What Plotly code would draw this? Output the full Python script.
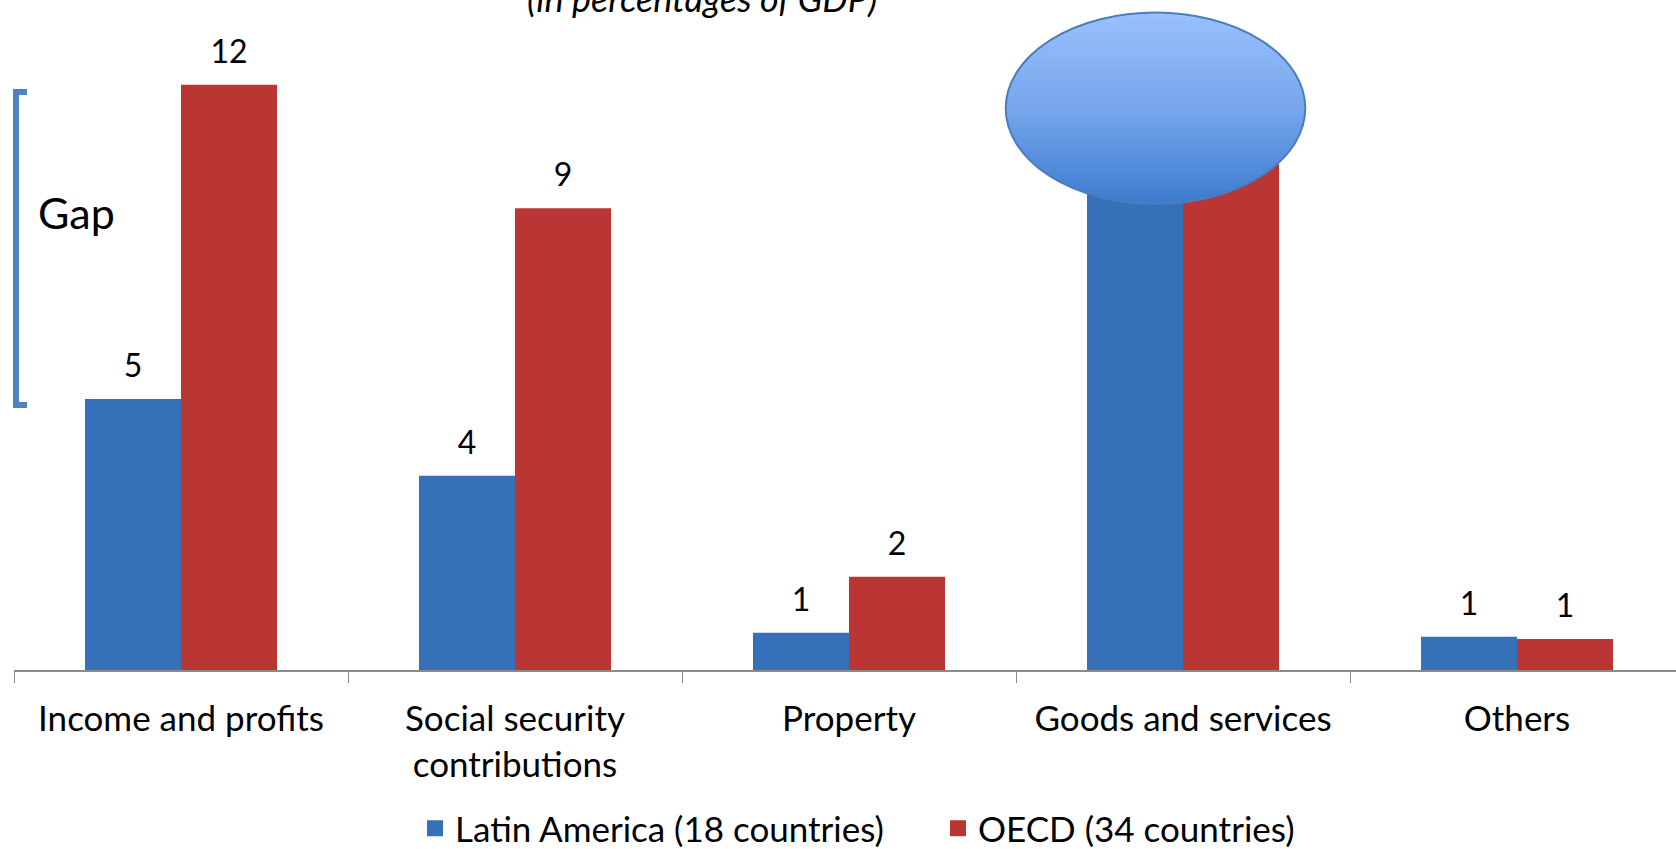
import math
import plotly.graph_objects as go

# ---- data ----
categories = ["Income and profits", "Social security<br>contributions", "Property",
              "Goods and services", "Others"]
latin_america = [5.40, 3.87, 0.74, 9.85, 0.66]
oecd = [11.66, 9.20, 1.86, 11.0, 0.62]
series_names = ["Latin America (18 countries)", "OECD (34 countries)"]
title_text = "(in percentages of GDP)"
gap_label = "Gap"

# ---- style ----
W, H = 1676, 849
ML, MR, MT, MB = 14, 0, 0, 179
PW, PH = W - ML - MR, H - MT - MB
FONT = "Lato"
BLUE = "#3670b9"
RED = "#b93634"
COLORS = [BLUE, RED]
GAP = 0.425


def px(x):
    return (x - ML) / PW


def py(y):
    return (H - MB - y) / PH


fig = go.Figure()
for name, vals, col in zip(series_names, [latin_america, oecd], COLORS):
    fig.add_trace(go.Bar(x=categories, y=vals, name=name, legendgroup=name, showlegend=False,
                         marker=dict(color=col, line=dict(width=0))))
# value labels (grouped scatter so they sit over their bars)
for k, (name, vals) in enumerate(zip(series_names, [latin_america, oecd])):
    fig.add_trace(go.Scatter(x=categories, y=vals, mode="markers+text", legendgroup=name,
                             showlegend=False, hoverinfo="skip",
                             alignmentgroup="labels", offsetgroup=f"lbl{k}",
                             text=[f"{v:.0f}" for v in vals], textposition="top center",
                             marker=dict(size=21, color="rgba(0,0,0,0)"),
                             textfont=dict(size=32, color="black", family=FONT),
                             cliponaxis=False))
# legend entries with larger square swatches (on a hidden overlay axis)
for name, col in zip(series_names, COLORS):
    fig.add_trace(go.Scatter(x=[None], y=[None], mode="markers", name=name, legendgroup=name,
                             xaxis="x2", yaxis="y2", hoverinfo="skip",
                             marker=dict(symbol="square", size=20, color=col)))

shapes = []
# gradient-filled ellipse made from horizontal slices
cx, cy, a, b = 1155.5, 108.3, 149.8, 95.7
top_c = (154, 192, 253)
mid_c = (118, 166, 236)
bot_c = (61, 123, 205)
N = 40


def lerp(c1, c2, t):
    return tuple(int(round(c1[i] + (c2[i] - c1[i]) * t)) for i in range(3))


for i in range(N):
    y0 = cy - b + 2 * b * i / N
    y1 = min(cy - b + 2 * b * (i + 1) / N + 0.8, cy + b)
    t = (i + 0.5) / N
    col = lerp(top_c, mid_c, t * 2) if t < 0.5 else lerp(mid_c, bot_c, (t - 0.5) * 2)
    pts_r, pts_l = [], []
    M = 6
    for k in range(M + 1):
        yy = y0 + (y1 - y0) * k / M
        dx = a * math.sqrt(max(0.0, 1 - ((yy - cy) / b) ** 2))
        pts_r.append((cx + dx, yy))
        pts_l.append((cx - dx, yy))
    pts = pts_r + pts_l[::-1]
    path = "M " + " L ".join(f"{px(x):.5f},{py(y):.5f}" for x, y in pts) + " Z"
    shapes.append(dict(type="path", xref="paper", yref="paper", path=path,
                       fillcolor="rgb(%d,%d,%d)" % col, line=dict(width=0), layer="above"))
shapes.append(dict(type="circle", xref="paper", yref="paper",
                   x0=px(cx - a), x1=px(cx + a), y0=py(cy + b), y1=py(cy - b),
                   line=dict(color="#4a7ebb", width=2), layer="above"))
# gap bracket
bx0, bx1, byt, byb = 16, 27, 92, 405
shapes.append(dict(type="path", xref="paper", yref="paper",
                   path=f"M {px(bx1):.5f},{py(byt):.5f} L {px(bx0):.5f},{py(byt):.5f} "
                        f"L {px(bx0):.5f},{py(byb):.5f} L {px(bx1):.5f},{py(byb):.5f}",
                   line=dict(color="#4f81bd", width=6), layer="above"))

annotations = [
    dict(text=title_text, xref="paper", yref="paper", x=px(702), y=py(22),
         xanchor="center", yanchor="bottom", showarrow=False,
         font=dict(family=FONT, size=36, color="black", style="italic")),
    dict(text=gap_label, xref="paper", yref="paper", x=px(36), y=py(212),
         xanchor="left", yanchor="middle", showarrow=False,
         font=dict(family=FONT, size=43, color="black")),
]

y_unit = 50.2  # px per percentage point
fig.update_layout(
    width=W, height=H,
    margin=dict(l=ML, r=MR, t=MT, b=MB, pad=0, autoexpand=False),
    paper_bgcolor="white", plot_bgcolor="white",
    barmode="group", bargap=GAP, bargroupgap=0,
    scattermode="group", scattergap=GAP,
    font=dict(family=FONT, size=35, color="black"),
    showlegend=True,
    legend=dict(orientation="h", x=938 / W, xanchor="center", xref="container",
                y=1 - 799 / H, yanchor="top", yref="container",
                font=dict(family=FONT, size=35, color="black"), itemsizing="trace",
                entrywidth=478, bgcolor="rgba(0,0,0,0)"),
    xaxis=dict(range=[-0.5, -0.5 + PW / 334.0], showline=True, linecolor="#8a8a8a", linewidth=2,
               ticks="outside", tickson="boundaries", ticklen=11, tickcolor="#8a8a8a", tickwidth=1,
               showgrid=False, zeroline=False, automargin=False,
               tickfont=dict(family=FONT, size=35, color="black"),
               ticklabelstandoff=17),
    yaxis=dict(range=[0, PH / y_unit], visible=False, showgrid=False, zeroline=False,
               automargin=False),
    xaxis2=dict(overlaying="x", visible=False, range=[0, 1]),
    yaxis2=dict(overlaying="y", visible=False, range=[0, 1]),
    shapes=shapes,
    annotations=annotations,
)

fig.write_html("out.html", config={"displayModeBar": False},
               post_script="document.body.style.margin='0px';")
